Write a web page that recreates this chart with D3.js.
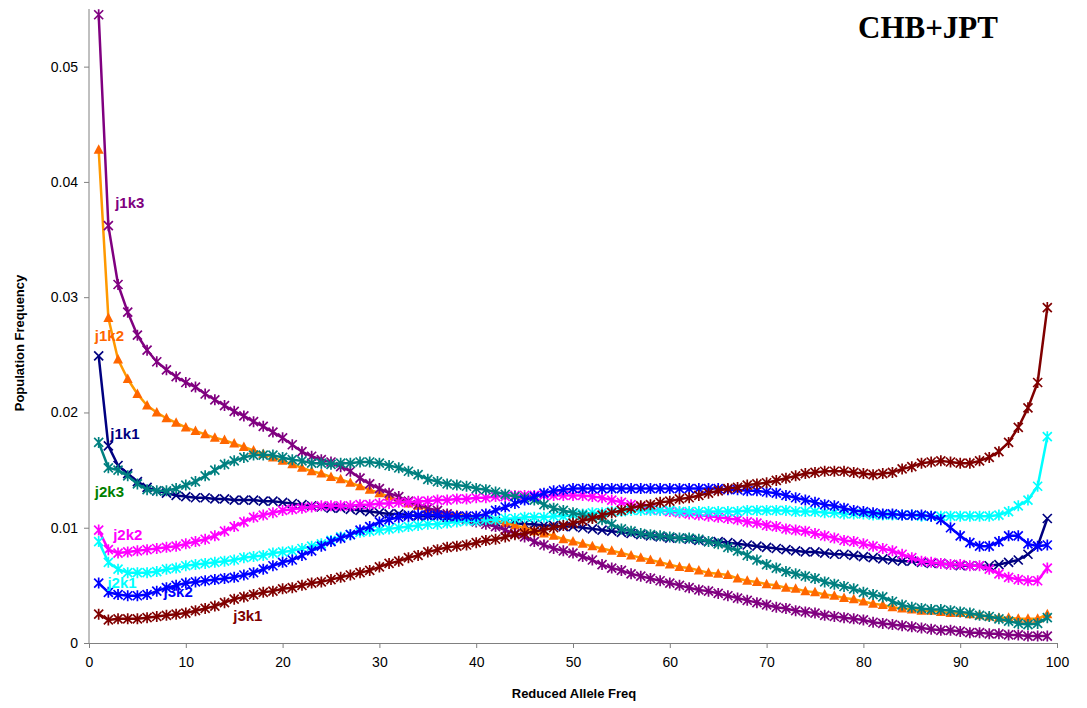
<!DOCTYPE html>
<html>
<head>
<meta charset="utf-8">
<script src="https://cdn.jsdelivr.net/npm/d3@7"></script>
<style>
  body { margin: 0; background: #fff; }
  svg { display: block; }
  .tick text { font-family: "Liberation Sans", Arial, sans-serif; font-size: 14px; fill: #000; }
  .axis path, .axis line { stroke: #808080; }
</style>
</head>
<body>
<main></main>
<script>
const W = 1087;
const H = 708;
const plot = { left: 89, right: 1057, top: 9, bottom: 643 };

// x categories: reduced allele frequency 1..99
const alleleFreq = [1,2,3,4,5,6,7,8,9,10,11,12,13,14,15,16,17,18,19,20,21,22,23,24,25,26,27,28,29,30,
  31,32,33,34,35,36,37,38,39,40,41,42,43,44,45,46,47,48,49,50,51,52,53,54,55,56,57,58,59,60,
  61,62,63,64,65,66,67,68,69,70,71,72,73,74,75,76,77,78,79,80,81,82,83,84,85,86,87,88,89,90,
  91,92,93,94,95,96,97,98,99];

const j1k1 = [0.0249,0.0171,0.0154,0.0147,0.0140,0.0135,0.0132,0.0130,0.0128,0.0127,
  0.0126,0.0126,0.0125,0.0125,0.0124,0.0124,0.0124,0.0123,0.0123,0.0122,
  0.0121,0.0120,0.0119,0.0118,0.0117,0.0117,0.0116,0.0115,0.0114,0.0113,
  0.0112,0.0112,0.0111,0.0110,0.0110,0.0110,0.0109,0.0109,0.0108,0.0107,
  0.0106,0.0105,0.0104,0.0104,0.0103,0.0103,0.0102,0.0102,0.0101,0.0101,
  0.0100,0.0099,0.0098,0.0097,0.0096,0.0095,0.0094,0.0093,0.0092,0.0091,
  0.0091,0.0090,0.0089,0.0088,0.0088,0.0087,0.0086,0.0085,0.0084,0.0083,
  0.0082,0.0081,0.0080,0.0079,0.0079,0.0078,0.0077,0.0077,0.0076,0.0075,
  0.0074,0.0073,0.0072,0.0071,0.0071,0.0070,0.0069,0.0069,0.0068,0.0067,
  0.0067,0.0067,0.0067,0.0068,0.0070,0.0072,0.0077,0.0084,0.0108];

const j1k2 = [0.0428,0.0282,0.0246,0.0229,0.0216,0.0206,0.0200,0.0195,0.0191,0.0187,
  0.0184,0.0181,0.0178,0.0176,0.0173,0.0170,0.0167,0.0164,0.0161,0.0158,
  0.0155,0.0152,0.0149,0.0147,0.0144,0.0142,0.0139,0.0136,0.0133,0.0130,
  0.0127,0.0124,0.0121,0.0119,0.0116,0.0114,0.0112,0.0111,0.0110,0.0109,
  0.0107,0.0106,0.0104,0.0102,0.0100,0.0097,0.0095,0.0093,0.0090,0.0088,
  0.0086,0.0084,0.0082,0.0080,0.0078,0.0076,0.0074,0.0072,0.0070,0.0068,
  0.0066,0.0065,0.0063,0.0061,0.0060,0.0059,0.0056,0.0054,0.0053,0.0051,
  0.0050,0.0048,0.0047,0.0045,0.0044,0.0042,0.0041,0.0039,0.0038,0.0036,
  0.0034,0.0033,0.0031,0.0030,0.0029,0.0028,0.0028,0.0027,0.0026,0.0026,
  0.0025,0.0024,0.0023,0.0022,0.0022,0.0021,0.0021,0.0021,0.0025];

const j1k3 = [0.0545,0.0362,0.0311,0.0287,0.0267,0.0254,0.0244,0.0237,0.0231,0.0226,
  0.0222,0.0216,0.0211,0.0206,0.0201,0.0197,0.0192,0.0188,0.0183,0.0178,
  0.0172,0.0166,0.0162,0.0159,0.0157,0.0153,0.0149,0.0143,0.0138,0.0134,
  0.0130,0.0127,0.0123,0.0120,0.0117,0.0115,0.0112,0.0110,0.0107,0.0105,
  0.0103,0.0101,0.0098,0.0095,0.0092,0.0088,0.0085,0.0082,0.0080,0.0078,
  0.0075,0.0072,0.0068,0.0065,0.0063,0.0060,0.0058,0.0056,0.0054,0.0052,
  0.0050,0.0048,0.0046,0.0045,0.0043,0.0041,0.0039,0.0037,0.0035,0.0033,
  0.0031,0.0030,0.0028,0.0027,0.0026,0.0024,0.0023,0.0022,0.0021,0.0020,
  0.0018,0.0017,0.0016,0.0015,0.0014,0.0013,0.0012,0.0011,0.0011,0.0010,
  0.0009,0.0009,0.0008,0.0008,0.0007,0.0007,0.0006,0.0006,0.0006];

const j2k1 = [0.0088,0.0070,0.0064,0.0061,0.0061,0.0061,0.0062,0.0064,0.0065,0.0067,
  0.0068,0.0069,0.0070,0.0071,0.0072,0.0074,0.0075,0.0076,0.0078,0.0079,
  0.0080,0.0082,0.0084,0.0086,0.0089,0.0092,0.0094,0.0096,0.0097,0.0098,
  0.0099,0.0100,0.0101,0.0102,0.0103,0.0103,0.0104,0.0105,0.0106,0.0106,
  0.0107,0.0107,0.0108,0.0108,0.0109,0.0109,0.0109,0.0110,0.0110,0.0111,
  0.0112,0.0113,0.0113,0.0114,0.0114,0.0115,0.0115,0.0115,0.0115,0.0115,
  0.0114,0.0114,0.0114,0.0114,0.0114,0.0114,0.0114,0.0115,0.0115,0.0115,
  0.0115,0.0115,0.0114,0.0114,0.0114,0.0113,0.0113,0.0112,0.0112,0.0112,
  0.0111,0.0111,0.0111,0.0111,0.0111,0.0110,0.0110,0.0110,0.0110,0.0110,
  0.0110,0.0110,0.0110,0.0111,0.0114,0.0119,0.0124,0.0136,0.0179];

const j2k2 = [0.0098,0.0081,0.0078,0.0079,0.0080,0.0081,0.0082,0.0083,0.0084,0.0086,
  0.0088,0.0090,0.0093,0.0097,0.0101,0.0105,0.0109,0.0111,0.0113,0.0115,
  0.0116,0.0117,0.0118,0.0119,0.0119,0.0119,0.0119,0.0120,0.0120,0.0121,
  0.0121,0.0122,0.0122,0.0123,0.0123,0.0124,0.0124,0.0125,0.0125,0.0126,
  0.0126,0.0127,0.0127,0.0128,0.0128,0.0128,0.0128,0.0128,0.0128,0.0128,
  0.0128,0.0127,0.0126,0.0124,0.0122,0.0120,0.0118,0.0116,0.0115,0.0114,
  0.0113,0.0112,0.0111,0.0110,0.0109,0.0108,0.0107,0.0105,0.0104,0.0102,
  0.0101,0.0099,0.0098,0.0097,0.0095,0.0093,0.0091,0.0089,0.0088,0.0086,
  0.0084,0.0082,0.0080,0.0077,0.0074,0.0071,0.0070,0.0069,0.0068,0.0068,
  0.0067,0.0067,0.0064,0.0060,0.0057,0.0055,0.0054,0.0054,0.0065];

const j2k3 = [0.0174,0.0152,0.0150,0.0145,0.0138,0.0133,0.0132,0.0132,0.0134,0.0137,
  0.0140,0.0145,0.0150,0.0155,0.0158,0.0161,0.0163,0.0163,0.0163,0.0161,
  0.0159,0.0158,0.0156,0.0156,0.0155,0.0156,0.0156,0.0157,0.0157,0.0156,
  0.0154,0.0152,0.0149,0.0146,0.0142,0.0140,0.0138,0.0137,0.0136,0.0134,
  0.0133,0.0131,0.0129,0.0127,0.0126,0.0124,0.0120,0.0117,0.0115,0.0113,
  0.0111,0.0109,0.0107,0.0103,0.0099,0.0097,0.0095,0.0094,0.0093,0.0092,
  0.0091,0.0091,0.0090,0.0088,0.0086,0.0083,0.0080,0.0076,0.0072,0.0068,
  0.0065,0.0062,0.0060,0.0058,0.0056,0.0053,0.0051,0.0049,0.0047,0.0044,
  0.0042,0.0040,0.0036,0.0033,0.0031,0.0030,0.0029,0.0029,0.0028,0.0027,
  0.0026,0.0024,0.0023,0.0021,0.0019,0.0017,0.0016,0.0017,0.0022];

const j3k1 = [0.0025,0.0020,0.0021,0.0021,0.0021,0.0022,0.0023,0.0024,0.0025,0.0026,
  0.0028,0.0030,0.0032,0.0035,0.0038,0.0040,0.0042,0.0044,0.0045,0.0047,
  0.0048,0.0050,0.0052,0.0053,0.0055,0.0057,0.0059,0.0061,0.0063,0.0066,
  0.0069,0.0071,0.0074,0.0076,0.0079,0.0081,0.0083,0.0084,0.0085,0.0087,
  0.0089,0.0090,0.0092,0.0094,0.0095,0.0097,0.0098,0.0100,0.0102,0.0104,
  0.0106,0.0108,0.0111,0.0113,0.0115,0.0117,0.0119,0.0120,0.0122,0.0123,
  0.0125,0.0126,0.0128,0.0130,0.0132,0.0134,0.0135,0.0137,0.0138,0.0139,
  0.0141,0.0143,0.0145,0.0147,0.0148,0.0149,0.0149,0.0149,0.0148,0.0147,
  0.0146,0.0147,0.0148,0.0151,0.0153,0.0156,0.0157,0.0158,0.0157,0.0156,
  0.0156,0.0158,0.0161,0.0166,0.0174,0.0187,0.0204,0.0226,0.0291];

const j3k2 = [0.0052,0.0044,0.0042,0.0041,0.0041,0.0042,0.0045,0.0048,0.0050,0.0052,
  0.0053,0.0054,0.0055,0.0056,0.0057,0.0059,0.0061,0.0064,0.0067,0.0070,
  0.0072,0.0076,0.0080,0.0084,0.0088,0.0091,0.0094,0.0098,0.0101,0.0105,
  0.0107,0.0109,0.0110,0.0111,0.0111,0.0111,0.0110,0.0110,0.0110,0.0110,
  0.0112,0.0115,0.0118,0.0121,0.0124,0.0127,0.0130,0.0132,0.0133,0.0134,
  0.0134,0.0134,0.0134,0.0134,0.0134,0.0134,0.0134,0.0134,0.0134,0.0134,
  0.0134,0.0134,0.0134,0.0134,0.0134,0.0133,0.0133,0.0132,0.0132,0.0131,
  0.0130,0.0128,0.0126,0.0124,0.0122,0.0120,0.0119,0.0117,0.0115,0.0114,
  0.0113,0.0112,0.0112,0.0111,0.0111,0.0111,0.0110,0.0107,0.0100,0.0093,
  0.0087,0.0084,0.0084,0.0088,0.0093,0.0093,0.0086,0.0084,0.0085];

const yTicks = [0, 0.01, 0.02, 0.03, 0.04, 0.05];
const yTickLabels = ["0", "0.01", "0.02", "0.03", "0.04", "0.05"];
const xTicks = [0, 10, 20, 30, 40, 50, 60, 70, 80, 90, 100];

// series labels placed at [x, y] in data units (left edge, baseline)
const labelNames = ["j1k3", "j1k2", "j1k1", "j2k3", "j2k2", "j2k1", "j3k2", "j3k1"];
const labelAt = [[2.7, 0.0377], [0.6, 0.0262], [2.2, 0.0177], [0.6, 0.0127],
                 [2.5, 0.0089], [1.9, 0.0048], [7.7, 0.0040], [14.9, 0.0019]];

const series = [
  { name: "j1k1", values: j1k1, line: "#000080", mark: "#000080", shape: "x",  label: "#000080" },
  { name: "j1k2", values: j1k2, line: "#FF9900", mark: "#FF6600", shape: "tri", label: "#FF6600" },
  { name: "j1k3", values: j1k3, line: "#800080", mark: "#800080", shape: "star", label: "#800080" },
  { name: "j2k2", values: j2k2, line: "#FF00FF", mark: "#FF00FF", shape: "star", label: "#FF00FF" },
  { name: "j2k1", values: j2k1, line: "#00FFFF", mark: "#00FFFF", shape: "star", label: "#00FFFF" },
  { name: "j2k3", values: j2k3, line: "#008080", mark: "#008080", shape: "star", label: "#008000" },
  { name: "j3k2", values: j3k2, line: "#0000FF", mark: "#0000FF", shape: "star", label: "#0000FF" },
  { name: "j3k1", values: j3k1, line: "#800000", mark: "#800000", shape: "star", label: "#800000" }
];

const x = d3.scaleLinear().domain([0, 100]).range([plot.left, plot.right]);
const y = d3.scaleLinear().domain([0, 0.055]).range([plot.bottom, plot.top]);

const svg = d3.select("main")
  .append("svg")
  .attr("width", W)
  .attr("height", H);

const markPath = (shape) => {
  const s = 4.5;
  if (shape === "tri") return "M0,-5.5L5,4L-5,4Z";
  if (shape === "x") return `M${-s},${-s}L${s},${s}M${-s},${s}L${s},${-s}`;
  return `M${-s},${-s}L${s},${s}M${-s},${s}L${s},${-s}M0,${-s - 1}L0,${s + 1}`;
};

// axes
svg.append("g")
  .attr("class", "axis")
  .attr("transform", `translate(${plot.left},0)`)
  .call(d3.axisLeft(y).tickValues(yTicks).tickFormat((d, i) => yTickLabels[i]).tickSize(5).tickSizeOuter(0).tickPadding(6))
  .call(g => g.select(".domain").attr("d", `M0,${plot.bottom}V${plot.top}`));

svg.append("g")
  .attr("class", "axis")
  .attr("transform", `translate(0,${plot.bottom})`)
  .call(d3.axisBottom(x).tickValues(xTicks).tickFormat(d3.format("d")).tickSize(5).tickSizeOuter(0).tickPadding(9));

const line = d3.line()
  .x((d, i) => x(alleleFreq[i]))
  .y(d => y(d));

series.forEach(s => {
  const g = svg.append("g").attr("class", "series " + s.name);
  g.append("path")
    .datum(s.values)
    .attr("fill", "none")
    .attr("stroke", s.line)
    .attr("stroke-width", 2.5)
    .attr("stroke-linejoin", "round")
    .attr("d", line);
  g.selectAll("path.mark")
    .data(s.values)
    .enter()
    .append("path")
    .attr("class", "mark")
    .attr("transform", (d, i) => `translate(${x(alleleFreq[i])},${y(d)})`)
    .attr("d", markPath(s.shape))
    .attr("fill", s.shape === "tri" ? s.mark : "none")
    .attr("stroke", s.shape === "tri" ? "none" : s.mark)
    .attr("stroke-width", 1.7);
});

// series labels
labelNames.forEach((n, i) => {
  const s = series.find(d => d.name === n);
  svg.append("text")
    .attr("x", x(labelAt[i][0]))
    .attr("y", y(labelAt[i][1]))
    .attr("fill", s.label)
    .style("font-family", "'Liberation Sans', Arial, sans-serif")
    .style("font-weight", "bold")
    .style("font-size", "15px")
    .text(n);
});

// axis titles
svg.append("text")
  .attr("transform", "rotate(-90)")
  .attr("x", -343)
  .attr("y", 24)
  .attr("text-anchor", "middle")
  .style("font-family", "'Liberation Sans', Arial, sans-serif")
  .style("font-weight", "bold")
  .style("font-size", "13px")
  .text("Population Frequency");

svg.append("text")
  .attr("x", 574)
  .attr("y", 698)
  .attr("text-anchor", "middle")
  .style("font-family", "'Liberation Sans', Arial, sans-serif")
  .style("font-weight", "bold")
  .style("font-size", "13px")
  .text("Reduced Allele Freq");

// chart title
svg.append("text")
  .attr("x", 858)
  .attr("y", 38)
  .style("font-family", "'Liberation Serif', 'Times New Roman', serif")
  .style("font-weight", "bold")
  .style("font-size", "31px")
  .text("CHB+JPT");
</script>
</body>
</html>
